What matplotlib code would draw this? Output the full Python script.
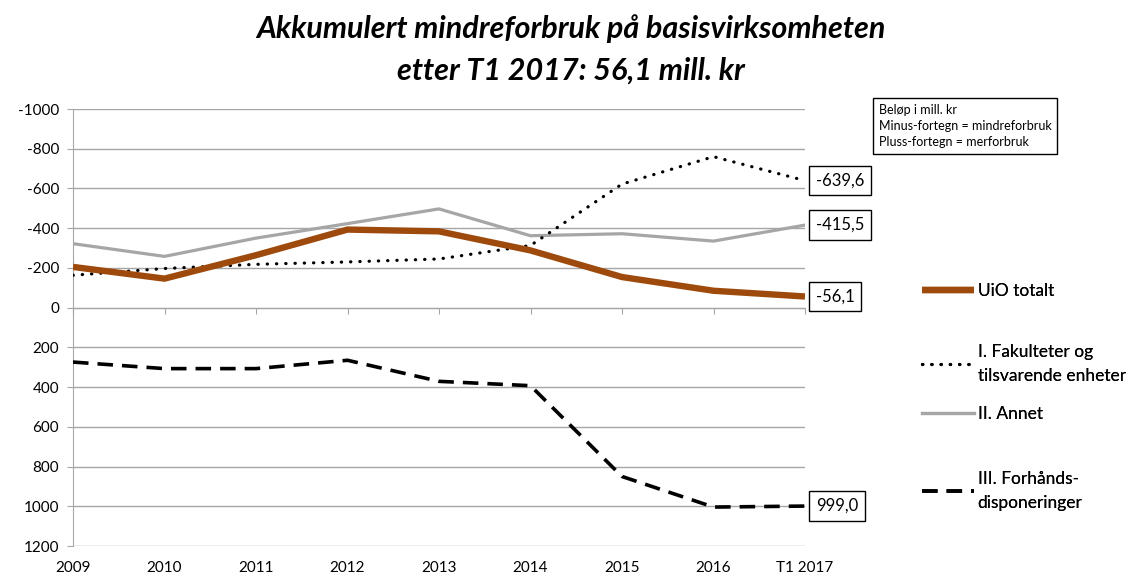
import matplotlib
matplotlib.use("Agg")
import matplotlib.pyplot as plt
from matplotlib.ticker import FixedLocator, FuncFormatter

plt.rcParams['font.family'] = ['Lato', 'DejaVu Sans']

categories = ["2009", "2010", "2011", "2012", "2013", "2014", "2015", "2016", "T1 2017"]
uio_totalt = [-205, -146, -264, -393, -384, -288, -154, -85, -56.1]
fakulteter = [-163, -197, -218, -230, -245, -313, -622, -760, -639.6]
annet = [-322, -258, -350, -423, -497, -362, -372, -335, -415.5]
forhands = [274, 307, 307, 265, 371, 393, 850, 1004, 999.0]
end_labels = ["-56,1", "-639,6", "-415,5", "999,0"]
yticks = list(range(-1000, 1201, 200))

title = "Akkumulert mindreforbruk på basisvirksomheten\netter T1 2017: 56,1 mill. kr"
note = "Beløp i mill. kr\nMinus-fortegn = mindreforbruk\nPluss-fortegn = merforbruk"
legend_labels = ["UiO totalt", "I. Fakulteter og\ntilsvarende enheter", "II. Annet",
                 "III. Forhånds-\ndisponeringer"]

fig = plt.figure(figsize=(11.3, 5.78), dpi=100)
ax = fig.add_axes([73/1130, 1-546/578, (805-73)/1130, (546-109)/578])

x = list(range(len(categories)))
grid_c = "#A6A6A6"

l_annet, = ax.plot(x, annet, color="#A6A6A6", lw=2.3, solid_joinstyle='round', zorder=3)
l_fak, = ax.plot(x, fakulteter, color="black", lw=2.3, linestyle=(0, (0.1, 2.8)),
                 dash_capstyle='round', zorder=4)
l_for, = ax.plot(x, forhands, color="black", lw=2.6, linestyle=(0, (4.3, 2.5)), zorder=4)
l_uio, = ax.plot(x, uio_totalt, color="#9E4A0C", lw=4.6, solid_joinstyle='round',
                 solid_capstyle='butt', zorder=5)

ax.set_xlim(0, len(categories) - 1)
ax.set_ylim(1200, -1000)
ax.yaxis.set_major_locator(FixedLocator(yticks))
ax.yaxis.set_major_formatter(FuncFormatter(lambda v, p: f"{int(v)}"))
ax.grid(axis='y', color=grid_c, lw=1.0)
ax.set_axisbelow(True)

for s in ['top', 'right']:
    ax.spines[s].set_visible(False)
ax.spines['left'].set_color(grid_c)
ax.spines['bottom'].set_color(grid_c)
ax.spines['bottom'].set_position(('data', 0))
ax.tick_params(axis='y', direction='out', length=4, color=grid_c, pad=6, labelsize=11)
ax.set_xticks(x)
ax.tick_params(axis='x', direction='out', length=4, color=grid_c, labelbottom=False)

sec = ax.secondary_xaxis('bottom')
sec.set_xticks(x)
sec.set_xticklabels(categories)
sec.tick_params(length=0, pad=11, labelsize=11)
sec.spines['bottom'].set_visible(False)

# end-value labels
for series, lab in zip([uio_totalt, fakulteter, annet, forhands], end_labels):
    ax.annotate(lab, xy=(x[-1], series[-1]), xytext=(11, 0), textcoords='offset pixels',
                ha='left', va='center', fontsize=12, annotation_clip=False,
                bbox=dict(boxstyle='square,pad=0.4', fc='white', ec='black', lw=1.0))

fig.text(0.505, 0.976, title, ha='center', va='top', fontsize=22, fontweight='bold',
         style='italic', linespacing=1.6)

fig.text(879/1130, 1-126/578, note, ha='left', va='center', fontsize=9, linespacing=1.45,
         bbox=dict(boxstyle='square,pad=0.45', fc='white', ec='black', lw=1.0))

# legends, one entry each
handles = [l_uio, l_fak, l_annet, l_for]
centers = [291, 364, 414, 491]
for h, lab, cy in zip(handles, legend_labels, centers):
    leg = fig.legend([h], [lab], loc='center left', bbox_to_anchor=(922/1130, 1-cy/578),
                     frameon=False, fontsize=12.5, handlelength=3.0, handletextpad=0.2,
                     borderaxespad=0, borderpad=0)
    for t in leg.get_texts():
        t.set_linespacing(1.6)
    fig.add_artist(leg)

fig.savefig("out.png", dpi=100)
